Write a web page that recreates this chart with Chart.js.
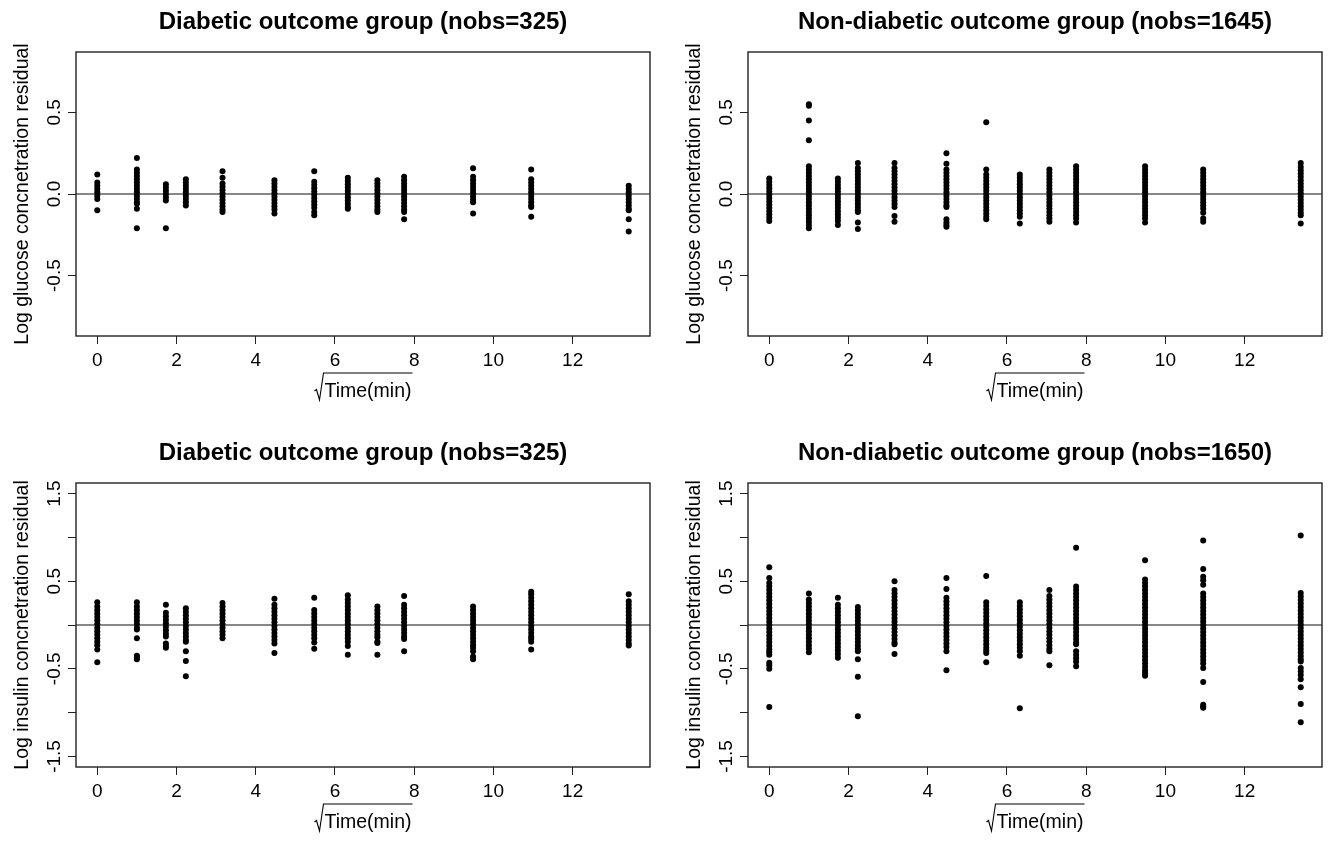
<!DOCTYPE html>
<html>
<head>
<meta charset="utf-8">
<script src="https://cdn.jsdelivr.net/npm/chart.js@4.4.1/dist/chart.umd.min.js"></script>
<style>
  body { margin: 0; background: #fff; overflow: hidden; }
  canvas { position: absolute; }
</style>
</head>
<body>
<canvas id="graf_glic_diab" width="657" height="410" style="left:0;top:0"></canvas>
<canvas id="graf_glic_nao_diab" width="657" height="410" style="left:672px;top:0"></canvas>
<canvas id="graf_ins_diab" width="657" height="410" style="left:0;top:431px"></canvas>
<canvas id="graf_ins_nao_diab" width="657" height="410" style="left:672px;top:431px"></canvas>
<script>
// sqrt of sampling time (min): 0, 1, 3, 5, 10, 20, 30, 40, 50, 60, 90, 120, 180
const sqrtTime = [0, 1, 1.732, 2.236, 3.162, 4.472, 5.477, 6.325, 7.071, 7.746, 9.487, 10.954, 13.416]
const xTicks = [0, 2, 4, 6, 8, 10, 12]

const glucoseTicks = [-0.5, 0, 0.5]
const glucoseLabels = ['-0.5', '0.0', '0.5']
const insulinTicks = [-1.5, -1, -0.5, 0, 0.5, 1, 1.5]
const insulinLabels = ['-1.5', '', '-0.5', '', '0.5', '', '1.5']

// residuals per sampling time, one list per time point
const diabGlucose = [
    [0.12, 0.07, 0.05, 0.03, 0.01, -0.01, -0.03, -0.10],
    [0.22, 0.15, 0.13, 0.11, 0.09, 0.07, 0.05, 0.03, 0.01, -0.01, -0.03, -0.05, -0.06, -0.09, -0.21],
    [0.06, 0.04, 0.02, 0.00, -0.02, -0.04, -0.21],
    [0.09, 0.07, 0.05, 0.03, 0.01, -0.01, -0.03, -0.05, -0.07],
    [0.14, 0.10, 0.065, 0.045, 0.025, 0.005, -0.015, -0.035, -0.055, -0.075, -0.095, -0.11],
    [0.085, 0.065, 0.045, 0.025, 0.005, -0.015, -0.035, -0.055, -0.075, -0.095, -0.12],
    [0.14, 0.075, 0.055, 0.035, 0.015, -0.005, -0.025, -0.045, -0.065, -0.085, -0.11, -0.13],
    [0.10, 0.08, 0.06, 0.04, 0.02, 0.00, -0.02, -0.04, -0.06, -0.08, -0.09],
    [0.085, 0.065, 0.045, 0.025, 0.005, -0.015, -0.035, -0.055, -0.075, -0.095, -0.11],
    [0.105, 0.085, 0.065, 0.045, 0.025, 0.005, -0.015, -0.035, -0.055, -0.075, -0.095, -0.11, -0.155],
    [0.157, 0.105, 0.085, 0.065, 0.045, 0.025, 0.005, -0.015, -0.035, -0.05, -0.12],
    [0.15, 0.09, 0.07, 0.05, 0.03, 0.01, -0.01, -0.03, -0.05, -0.07, -0.08, -0.14],
    [0.05, 0.03, 0.01, -0.01, -0.03, -0.05, -0.07, -0.09, -0.10, -0.155, -0.23]
]

const nonDiabGlucose = [
    [0.095, 0.075, 0.055, 0.035, 0.015, -0.005, -0.025, -0.045, -0.065, -0.085, -0.105, -0.125, -0.145, -0.165],
    [0.55, 0.54, 0.45, 0.33, 0.17, 0.15, 0.13, 0.11, 0.09, 0.07, 0.05, 0.03, 0.01, -0.01, -0.03, -0.05, -0.07, -0.09, -0.11, -0.13, -0.15, -0.17, -0.19, -0.21],
    [0.095, 0.075, 0.055, 0.035, 0.015, -0.005, -0.025, -0.045, -0.065, -0.085, -0.105, -0.125, -0.145, -0.165, -0.19],
    [0.19, 0.16, 0.14, 0.12, 0.10, 0.08, 0.06, 0.04, 0.02, 0.00, -0.02, -0.04, -0.06, -0.08, -0.10, -0.11, -0.175, -0.215],
    [0.19, 0.16, 0.14, 0.12, 0.10, 0.08, 0.06, 0.04, 0.02, 0.00, -0.02, -0.04, -0.06, -0.08, -0.135, -0.17],
    [0.25, 0.185, 0.15, 0.13, 0.11, 0.09, 0.07, 0.05, 0.03, 0.01, -0.01, -0.03, -0.05, -0.07, -0.08, -0.155, -0.175, -0.19, -0.20],
    [0.44, 0.15, 0.12, 0.10, 0.08, 0.06, 0.04, 0.02, 0.00, -0.02, -0.04, -0.06, -0.08, -0.10, -0.12, -0.14, -0.155],
    [0.12, 0.10, 0.08, 0.06, 0.04, 0.02, 0.00, -0.02, -0.04, -0.06, -0.08, -0.10, -0.12, -0.14, -0.18],
    [0.15, 0.13, 0.11, 0.09, 0.07, 0.05, 0.03, 0.01, -0.01, -0.03, -0.05, -0.07, -0.09, -0.11, -0.13, -0.15, -0.17],
    [0.17, 0.15, 0.13, 0.11, 0.09, 0.07, 0.05, 0.03, 0.01, -0.01, -0.03, -0.05, -0.07, -0.09, -0.11, -0.13, -0.15, -0.175],
    [0.17, 0.15, 0.13, 0.11, 0.09, 0.07, 0.05, 0.03, 0.01, -0.01, -0.03, -0.05, -0.07, -0.09, -0.11, -0.13, -0.15, -0.175],
    [0.15, 0.13, 0.11, 0.09, 0.07, 0.05, 0.03, 0.01, -0.01, -0.03, -0.05, -0.07, -0.09, -0.115, -0.15, -0.17],
    [0.19, 0.165, 0.145, 0.125, 0.105, 0.085, 0.065, 0.045, 0.025, 0.005, -0.015, -0.035, -0.055, -0.075, -0.095, -0.115, -0.13, -0.18]
]

const diabInsulin = [
    [0.26, 0.21, 0.17, 0.13, 0.09, 0.05, 0.01, -0.03, -0.07, -0.11, -0.15, -0.19, -0.23, -0.28, -0.425],
    [0.26, 0.21, 0.17, 0.13, 0.09, 0.05, 0.01, -0.03, -0.05, -0.15, -0.35, -0.37, -0.39],
    [0.23, 0.14, 0.10, 0.06, 0.02, -0.02, -0.06, -0.10, -0.13, -0.21, -0.24, -0.26],
    [0.19, 0.15, 0.11, 0.07, 0.03, -0.01, -0.05, -0.09, -0.13, -0.17, -0.19, -0.30, -0.41, -0.585],
    [0.25, 0.21, 0.17, 0.13, 0.09, 0.05, 0.01, -0.03, -0.07, -0.11, -0.15],
    [0.30, 0.23, 0.19, 0.15, 0.11, 0.07, 0.03, -0.01, -0.05, -0.09, -0.13, -0.17, -0.21, -0.32],
    [0.31, 0.17, 0.13, 0.09, 0.05, 0.01, -0.03, -0.07, -0.11, -0.15, -0.20, -0.27],
    [0.34, 0.29, 0.25, 0.21, 0.17, 0.13, 0.09, 0.05, 0.01, -0.03, -0.07, -0.11, -0.15, -0.19, -0.24, -0.34],
    [0.21, 0.17, 0.13, 0.09, 0.05, 0.01, -0.03, -0.07, -0.11, -0.14, -0.19, -0.205, -0.34],
    [0.33, 0.23, 0.19, 0.15, 0.11, 0.07, 0.03, -0.01, -0.05, -0.09, -0.13, -0.16, -0.30],
    [0.21, 0.17, 0.13, 0.09, 0.05, 0.01, -0.03, -0.07, -0.11, -0.15, -0.19, -0.23, -0.26, -0.30, -0.36, -0.39],
    [0.38, 0.35, 0.31, 0.27, 0.23, 0.19, 0.15, 0.11, 0.07, 0.03, -0.01, -0.05, -0.09, -0.13, -0.16, -0.19, -0.28],
    [0.35, 0.27, 0.23, 0.19, 0.15, 0.11, 0.07, 0.03, -0.01, -0.05, -0.09, -0.13, -0.17, -0.21, -0.235]
]

const nonDiabInsulin = [
    [0.66, 0.535, 0.48, 0.44, 0.40, 0.36, 0.32, 0.28, 0.24, 0.20, 0.16, 0.12, 0.08, 0.04, 0.00, -0.04, -0.08, -0.12, -0.16, -0.20, -0.24, -0.28, -0.31, -0.34, -0.43, -0.46, -0.50, -0.935],
    [0.36, 0.29, 0.25, 0.21, 0.17, 0.13, 0.09, 0.05, 0.01, -0.03, -0.07, -0.11, -0.15, -0.19, -0.23, -0.27, -0.31],
    [0.31, 0.23, 0.19, 0.15, 0.11, 0.07, 0.03, -0.01, -0.05, -0.09, -0.13, -0.17, -0.21, -0.25, -0.29, -0.33, -0.375],
    [0.205, 0.165, 0.125, 0.085, 0.045, 0.005, -0.035, -0.075, -0.115, -0.155, -0.195, -0.235, -0.27, -0.30, -0.39, -0.59, -1.04],
    [0.50, 0.40, 0.36, 0.32, 0.28, 0.24, 0.20, 0.16, 0.12, 0.08, 0.04, 0.00, -0.04, -0.08, -0.12, -0.16, -0.20, -0.22, -0.33],
    [0.535, 0.41, 0.31, 0.27, 0.23, 0.19, 0.15, 0.11, 0.07, 0.03, -0.01, -0.05, -0.09, -0.13, -0.17, -0.21, -0.25, -0.30, -0.515],
    [0.56, 0.26, 0.22, 0.18, 0.14, 0.10, 0.06, 0.02, -0.02, -0.06, -0.10, -0.14, -0.18, -0.22, -0.26, -0.29, -0.32, -0.425],
    [0.26, 0.22, 0.18, 0.14, 0.10, 0.06, 0.02, -0.02, -0.06, -0.10, -0.14, -0.18, -0.22, -0.26, -0.30, -0.35, -0.95],
    [0.40, 0.33, 0.29, 0.25, 0.21, 0.17, 0.13, 0.09, 0.05, 0.01, -0.03, -0.07, -0.11, -0.15, -0.19, -0.23, -0.27, -0.30, -0.46],
    [0.88, 0.44, 0.40, 0.36, 0.32, 0.28, 0.24, 0.20, 0.16, 0.12, 0.08, 0.04, 0.00, -0.04, -0.08, -0.12, -0.16, -0.20, -0.22, -0.30, -0.34, -0.38, -0.42, -0.47],
    [0.74, 0.52, 0.48, 0.44, 0.40, 0.36, 0.32, 0.28, 0.24, 0.20, 0.16, 0.12, 0.08, 0.04, 0.00, -0.04, -0.08, -0.12, -0.16, -0.20, -0.24, -0.28, -0.32, -0.36, -0.40, -0.44, -0.48, -0.52, -0.55, -0.58],
    [0.965, 0.64, 0.55, 0.51, 0.46, 0.36, 0.32, 0.28, 0.24, 0.20, 0.16, 0.12, 0.08, 0.04, 0.00, -0.04, -0.08, -0.12, -0.16, -0.20, -0.24, -0.28, -0.32, -0.36, -0.40, -0.44, -0.49, -0.65, -0.91, -0.93, -0.945],
    [1.02, 0.365, 0.325, 0.285, 0.245, 0.205, 0.165, 0.125, 0.085, 0.045, 0.005, -0.035, -0.075, -0.115, -0.155, -0.195, -0.235, -0.275, -0.315, -0.355, -0.39, -0.415, -0.49, -0.53, -0.57, -0.62, -0.71, -0.90, -1.11]
]

const FONT = '"Liberation Sans", Arial, sans-serif'

// box, zero line, title and the rotated y labels, drawn the way base R does them
const rFrame = {
    id: 'rFrame',
    beforeDatasetsDraw(chart) {
        const ctx = chart.ctx
        const a = chart.chartArea
        const y0 = chart.scales.y.getPixelForValue(0)
        ctx.save()
        ctx.strokeStyle = '#111'
        ctx.lineWidth = 1.2
        ctx.beginPath()
        ctx.moveTo(a.left, y0)
        ctx.lineTo(a.right, y0)
        ctx.stroke()
        ctx.restore()
    },
    afterDraw(chart, args, opts) {
        const ctx = chart.ctx
        const a = chart.chartArea
        const yScale = chart.scales.y
        const cx = (a.left + a.right) / 2
        ctx.save()

        ctx.strokeStyle = '#222'
        ctx.lineWidth = 1.4
        ctx.strokeRect(a.left, a.top, a.right - a.left, a.bottom - a.top)

        ctx.fillStyle = '#000'
        ctx.textBaseline = 'alphabetic'
        ctx.textAlign = 'center'
        ctx.font = 'bold 24px ' + FONT
        ctx.fillText(opts.title, cx, a.top - 23)

        // y tick labels, rotated like las=0
        ctx.font = '19px ' + FONT
        for (let i = 0; i < opts.yTicks.length; i++) {
            if (!opts.yLabels[i]) continue
            ctx.save()
            ctx.translate(a.left - 16, yScale.getPixelForValue(opts.yTicks[i]))
            ctx.rotate(-Math.PI / 2)
            ctx.fillText(opts.yLabels[i], 0, 0)
            ctx.restore()
        }

        // y axis title
        ctx.font = '19.5px ' + FONT
        ctx.save()
        ctx.translate(a.left - 48.5, (a.top + a.bottom) / 2)
        ctx.rotate(-Math.PI / 2)
        ctx.fillText(opts.yTitle, 0, 0)
        ctx.restore()

        // x axis title: sqrt(Time(min)), radical drawn as a path like plotmath
        ctx.font = '19.5px ' + FONT
        const label = 'Time(min)'
        const base = a.bottom + 61
        const barY = a.bottom + 37
        const w = ctx.measureText(label).width
        const ts = cx - (w - 10) / 2
        ctx.textAlign = 'left'
        ctx.fillText(label, ts, base)
        ctx.strokeStyle = '#000'
        ctx.lineWidth = 1.1
        ctx.beginPath()
        ctx.moveTo(ts - 10, base - 6)
        ctx.lineTo(ts - 8, base - 7.5)
        ctx.lineTo(ts - 5, base + 3)
        ctx.lineTo(ts - 1, barY)
        ctx.lineTo(ts + w + 1, barY)
        ctx.stroke()

        ctx.restore()
    }
}

function toPoints(residuals) {
    let array = []
    for (let i = 0; i < residuals.length; i++) {
        for (let value of residuals[i]) {
            array.push({x: sqrtTime[i], y: value})
        }
    }
    return array
}

function residualPlot(id, title, yTitle, residuals, yLim, yTicks, yLabels) {
    const ctx = document.getElementById(id).getContext('2d')
    return new Chart(ctx, {
        type: 'scatter',
        data: {
            datasets: [{
                data: toPoints(residuals),
                backgroundColor: '#000',
                borderWidth: 0,
                pointRadius: 3,
                pointHoverRadius: 3
            }]
        },
        options: {
            responsive: false,
            animation: false,
            events: [],
            layout: {
                padding: {left: 0, right: 7, top: 52, bottom: 0}
            },
            plugins: {
                legend: {display: false},
                tooltip: {enabled: false},
                rFrame: {title: title, yTitle: yTitle, yTicks: yTicks, yLabels: yLabels}
            },
            scales: {
                x: {
                    type: 'linear',
                    position: 'bottom',
                    min: -0.537,
                    max: 13.953,
                    afterBuildTicks: s => { s.ticks = xTicks.map(v => ({value: v})) },
                    afterFit: s => { s.height = 74 },
                    border: {display: false},
                    grid: {drawOnChartArea: false, drawTicks: true, tickLength: 8, color: '#222'},
                    ticks: {color: '#000', padding: 5, font: {family: FONT, size: 19}}
                },
                y: {
                    type: 'linear',
                    min: -yLim,
                    max: yLim,
                    afterBuildTicks: s => { s.ticks = yTicks.map(v => ({value: v})) },
                    afterFit: s => { s.width = 76 },
                    border: {display: false},
                    grid: {drawOnChartArea: false, drawTicks: true, tickLength: 8, color: '#222'},
                    ticks: {display: false}
                }
            }
        },
        plugins: [rFrame]
    })
}

residualPlot('graf_glic_diab', 'Diabetic outcome group (nobs=325)',
    'Log glucose concnetration residual', diabGlucose, 0.87, glucoseTicks, glucoseLabels)
residualPlot('graf_glic_nao_diab', 'Non-diabetic outcome group (nobs=1645)',
    'Log glucose concnetration residual', nonDiabGlucose, 0.87, glucoseTicks, glucoseLabels)
residualPlot('graf_ins_diab', 'Diabetic outcome group (nobs=325)',
    'Log insulin concnetration residual', diabInsulin, 1.62, insulinTicks, insulinLabels)
residualPlot('graf_ins_nao_diab', 'Non-diabetic outcome group (nobs=1650)',
    'Log insulin concnetration residual', nonDiabInsulin, 1.62, insulinTicks, insulinLabels)
</script>
</body>
</html>
